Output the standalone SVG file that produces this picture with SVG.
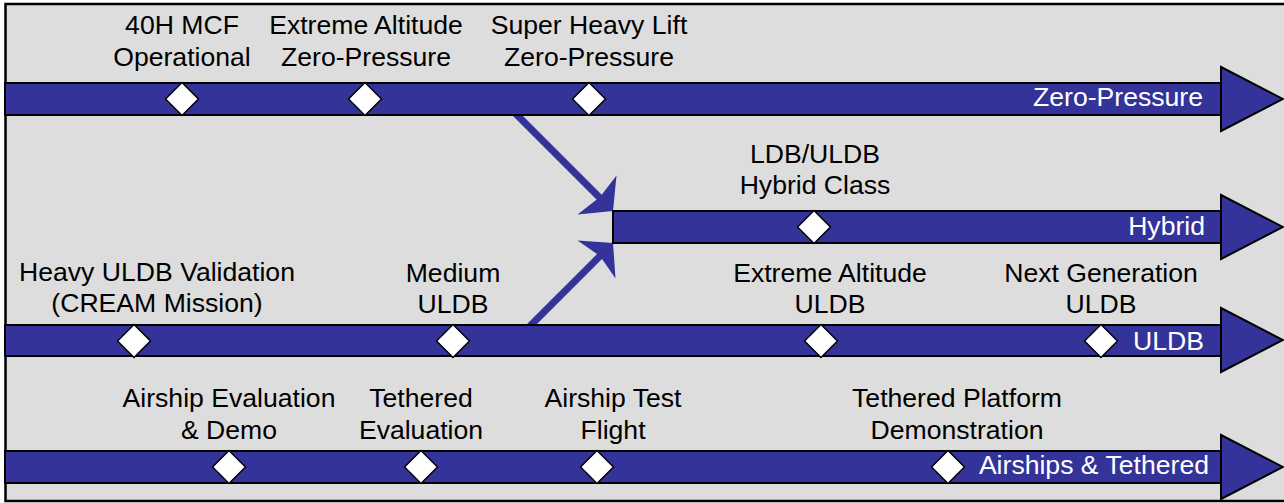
<svg xmlns="http://www.w3.org/2000/svg" width="1284" height="503" viewBox="0 0 1284 503">
  <style>
    .lbl { font-family: "Liberation Sans", Arial, sans-serif; font-size: 26.6px; fill: #000; text-anchor: middle; }
    .bar-lbl { font-family: "Liberation Sans", Arial, sans-serif; font-size: 26.6px; fill: #fff; text-anchor: end; }
    .bar { fill: #333399; stroke: #000; stroke-width: 2; }
    .head { fill: #333399; stroke: #000; stroke-width: 2; stroke-linejoin: miter; }
    .ms { fill: #fff; stroke: #000; stroke-width: 1.5; }
    .link { stroke: #333399; stroke-width: 7; fill: none; }
    .link-head { fill: #333399; }
  </style>
  <defs>
    <polygon id="diamond" class="ms" points="0,-16.5 16.5,0 0,16.5 -16.5,0"/>
  </defs>

  <!-- panel -->
  <rect x="5.5" y="4" width="1300" height="497" fill="#dddddd" stroke="#000" stroke-width="2.5"/>

  <!-- connectors: branches feeding the hybrid track -->
  <g id="connectors">
    <line class="link" x1="505" y1="103" x2="603" y2="201"/>
    <polygon class="link-head" points="613,211 616.5,175.5 600,197 577.5,214.5"/>
    <line class="link" x1="518" y1="338" x2="601" y2="255"/>
    <polygon class="link-head" points="613,243 577.5,240.5 600,256 615.5,278.5"/>
  </g>

  <!-- Zero-Pressure track -->
  <g id="track-zero-pressure">
    <rect class="bar" x="5" y="83" width="1216" height="32"/>
    <polygon class="head" points="1221,67 1283,99 1221,131"/>
    <text class="bar-lbl" x="1203" y="106">Zero-Pressure</text>
  </g>
  <g id="ms-40h-mcf">
    <use href="#diamond" x="182" y="99"/>
    <text class="lbl" x="182" y="34">40H MCF</text>
    <text class="lbl" x="182" y="66">Operational</text>
  </g>
  <g id="ms-extreme-zp">
    <use href="#diamond" x="365" y="99"/>
    <text class="lbl" x="366" y="34">Extreme Altitude</text>
    <text class="lbl" x="366" y="66">Zero-Pressure</text>
  </g>
  <g id="ms-super-heavy">
    <use href="#diamond" x="589" y="99"/>
    <text class="lbl" x="589" y="34">Super Heavy Lift</text>
    <text class="lbl" x="589" y="66">Zero-Pressure</text>
  </g>

  <!-- Hybrid track -->
  <g id="track-hybrid">
    <rect class="bar" x="613" y="211" width="608" height="32"/>
    <polygon class="head" points="1221,195 1283,227 1221,259"/>
    <text class="bar-lbl" x="1205" y="235">Hybrid</text>
  </g>
  <g id="ms-hybrid-class">
    <use href="#diamond" x="814" y="227"/>
    <text class="lbl" x="815" y="163">LDB/ULDB</text>
    <text class="lbl" x="815" y="194">Hybrid Class</text>
  </g>

  <!-- ULDB track -->
  <g id="track-uldb">
    <rect class="bar" x="5" y="325" width="1216" height="31"/>
    <polygon class="head" points="1221,308 1283,340 1221,372"/>
    <text class="bar-lbl" x="1204" y="350">ULDB</text>
  </g>
  <g id="ms-heavy-uldb">
    <use href="#diamond" x="134" y="341"/>
    <text class="lbl" x="157" y="281">Heavy ULDB Validation</text>
    <text class="lbl" x="157" y="312">(CREAM Mission)</text>
  </g>
  <g id="ms-medium-uldb">
    <use href="#diamond" x="453" y="341"/>
    <text class="lbl" x="453" y="282">Medium</text>
    <text class="lbl" x="453" y="313">ULDB</text>
  </g>
  <g id="ms-extreme-uldb">
    <use href="#diamond" x="821" y="341"/>
    <text class="lbl" x="830" y="282">Extreme Altitude</text>
    <text class="lbl" x="830" y="313">ULDB</text>
  </g>
  <g id="ms-next-gen">
    <use href="#diamond" x="1101" y="341"/>
    <text class="lbl" x="1101" y="282">Next Generation</text>
    <text class="lbl" x="1101" y="313">ULDB</text>
  </g>

  <!-- Airships & Tethered track -->
  <g id="track-airships">
    <rect class="bar" x="5" y="451" width="1216" height="32"/>
    <polygon class="head" points="1221,435 1283,467 1221,499"/>
    <text class="bar-lbl" x="1209" y="474">Airships &amp; Tethered</text>
  </g>
  <g id="ms-airship-eval">
    <use href="#diamond" x="229" y="467"/>
    <text class="lbl" x="229" y="407">Airship Evaluation</text>
    <text class="lbl" x="229" y="439">&amp; Demo</text>
  </g>
  <g id="ms-tethered-eval">
    <use href="#diamond" x="421" y="467"/>
    <text class="lbl" x="421" y="407">Tethered</text>
    <text class="lbl" x="421" y="439">Evaluation</text>
  </g>
  <g id="ms-airship-test">
    <use href="#diamond" x="597" y="467"/>
    <text class="lbl" x="613" y="407">Airship Test</text>
    <text class="lbl" x="613" y="439">Flight</text>
  </g>
  <g id="ms-tethered-platform">
    <use href="#diamond" x="948" y="467"/>
    <text class="lbl" x="957" y="407">Tethered Platform</text>
    <text class="lbl" x="957" y="439">Demonstration</text>
  </g>
</svg>
